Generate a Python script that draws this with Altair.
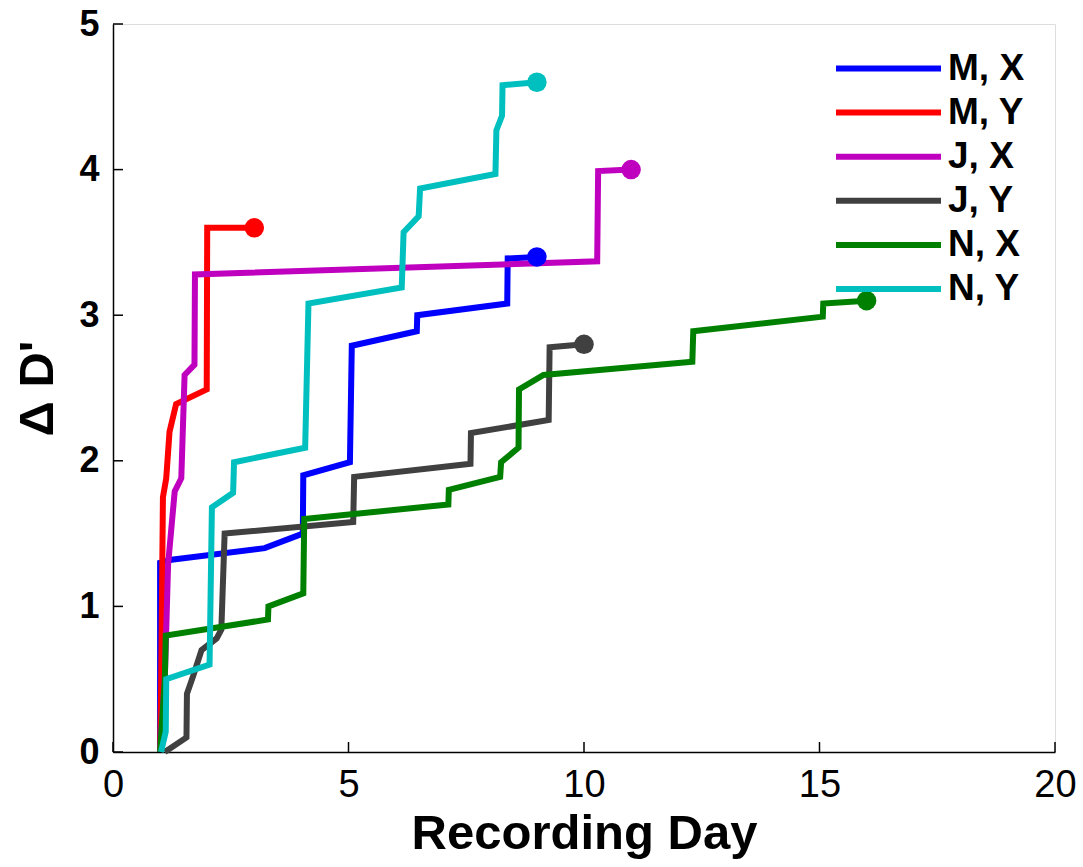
import altair as alt
import pandas as pd

series_names = ["M, X", "M, Y", "J, X", "J, Y", "N, X", "N, Y"]
series_colors = ["#0000FF", "#FF0000", "#BF00BF", "#404040", "#008000", "#00BFBF"]

mx_x = [1.0, 1.0, 1.24, 3.22, 4.03, 4.04, 5.03, 5.07, 6.45, 6.46, 8.37, 8.38, 9.0]
mx_y = [0.0, 1.30, 1.32, 1.40, 1.50, 1.90, 1.99, 2.79, 2.89, 3.00, 3.08, 3.39, 3.40]

my_x = [1.0, 1.02, 1.06, 1.13, 1.20, 1.34, 1.99, 2.0, 3.0]
my_y = [0.0, 0.40, 1.75, 1.88, 2.20, 2.39, 2.49, 3.60, 3.60]

jx_x = [1.0, 1.1, 1.17, 1.31, 1.45, 1.52, 1.73, 1.74, 10.28, 10.30, 11.0]
jx_y = [0.0, 0.5, 1.29, 1.79, 1.88, 2.59, 2.66, 3.28, 3.37, 3.99, 4.0]

jy_x = [1.10, 1.56, 1.57, 1.70, 1.88, 2.20, 2.30, 2.37, 5.10, 5.12, 7.59, 7.60, 9.25, 9.27, 10.0]
jy_y = [0.0, 0.10, 0.40, 0.52, 0.70, 0.78, 0.84, 1.50, 1.58, 1.89, 1.98, 2.19, 2.28, 2.78, 2.80]

nx_x = [1.0, 1.1, 1.12, 3.29, 3.30, 4.04, 4.06, 7.12, 7.13, 8.22, 8.24, 8.61, 8.62, 9.14, 12.3, 12.32, 15.07, 15.08, 16.0]
nx_y = [0.0, 0.5, 0.80, 0.91, 1.00, 1.09, 1.60, 1.70, 1.80, 1.89, 1.99, 2.09, 2.49, 2.59, 2.68, 2.89, 2.99, 3.08, 3.10]

ny_x = [1.02, 1.12, 1.13, 2.05, 2.10, 2.55, 2.57, 4.08, 4.15, 6.13, 6.17, 6.49, 6.52, 8.12, 8.14, 8.26, 8.27, 9.0]
ny_y = [0.0, 0.14, 0.50, 0.60, 1.68, 1.78, 1.99, 2.09, 3.08, 3.19, 3.57, 3.68, 3.87, 3.97, 4.27, 4.37, 4.58, 4.60]

x_ticks = [0, 5, 10, 15, 20]
y_ticks = [0, 1, 2, 3, 4, 5]

series_x = [mx_x, my_x, jx_x, jy_x, nx_x, ny_x]
series_y = [mx_y, my_y, jx_y, jy_y, nx_y, ny_y]

rows = []
ends = []
for name, xs, ys in zip(series_names, series_x, series_y):
    for i, (a, b) in enumerate(zip(xs, ys)):
        rows.append({"series": name, "day": a, "dp": b, "order": i})
    ends.append({"series": name, "day": xs[-1], "dp": ys[-1]})
df = pd.DataFrame(rows)
df_end = pd.DataFrame(ends)

FONT = "Liberation Sans"

xscale = alt.Scale(domain=[0, 20], nice=False, zero=False)
yscale = alt.Scale(domain=[0, 5], nice=False, zero=False)
color = alt.Color(
    "series:N",
    scale=alt.Scale(domain=series_names, range=series_colors),
    legend=alt.Legend(
        title=None,
        orient="none",
        legendX=720,
        legendY=26,
        symbolType="stroke",
        symbolSize=11025,
        symbolStrokeWidth=6,
        clipHeight=37,
        rowPadding=6.1,
        labelFont=FONT,
        labelFontSize=37,
        labelFontWeight="bold",
        labelColor="black",
        labelOffset=4,
        symbolOffset=0,
        padding=0,
    ),
)

lines = alt.Chart(df).mark_line(strokeWidth=6).encode(
    x=alt.X("day:Q", scale=xscale,
            axis=alt.Axis(values=x_ticks, title="Recording Day", tickSize=0, format="d",
                          labelFontSize=38, labelFont=FONT, labelColor="black",
                          labelPadding=14, titleFont=FONT, titleFontSize=49,
                          titleFontWeight="bold", titleColor="black",
                          titlePadding=5, domainColor="black", domainWidth=1.5,
                          grid=False, labelFlush=False)),
    y=alt.Y("dp:Q", scale=yscale,
            axis=alt.Axis(values=y_ticks, title="\u0394 D'", tickSize=0, format="d",
                          labelFontSize=36, labelFontWeight="bold", labelFont=FONT,
                          labelColor="black", labelPadding=14, titleFont=FONT,
                          titleFontSize=49, titleFontWeight="bold", titleColor="black",
                          titlePadding=16, domainColor="black", domainWidth=1.5,
                          grid=False, labelFlush=False)),
    color=color,
    order="order:Q",
)

dots = alt.Chart(df_end).mark_circle(size=380, opacity=1).encode(
    x=alt.X("day:Q", scale=xscale),
    y=alt.Y("dp:Q", scale=yscale),
    color=alt.Color("series:N", scale=alt.Scale(domain=series_names, range=series_colors), legend=None),
)

xt = alt.Chart(pd.DataFrame({"v": x_ticks})).mark_rule(color="black", strokeWidth=1.5).encode(
    x=alt.X("v:Q", scale=xscale), y=alt.value(728), y2=alt.value(718)
)
yt = alt.Chart(pd.DataFrame({"v": y_ticks})).mark_rule(color="black", strokeWidth=1.5).encode(
    y=alt.Y("v:Q", scale=yscale), x=alt.value(0), x2=alt.value(10)
)

chart = alt.layer(lines, dots, xt, yt).properties(
    width=942, height=728,
    autosize=alt.AutoSizeParams(type="none"),
    padding={"left": 113, "top": 24, "right": 28, "bottom": 115},
).configure_view(stroke=None).configure(background="white")

chart.save("out.html", embed_options={"renderer": "svg", "actions": False})
